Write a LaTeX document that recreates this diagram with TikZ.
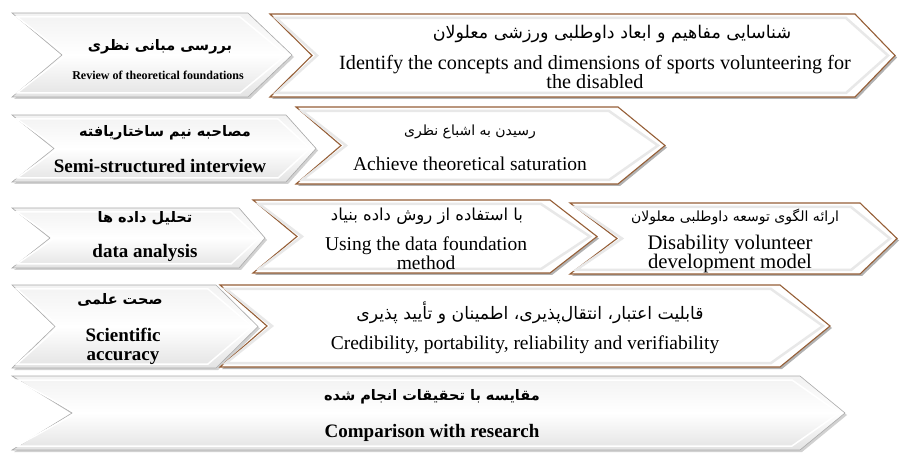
\documentclass[tikz,border=0pt]{standalone}
\usepackage{fontspec}
\setmainfont{Liberation Serif}
\newfontfamily\fa[Script=Arabic]{DejaVu Sans}
\TeXXeTstate=1
\definecolor{brownedge}{RGB}{150,95,55}
\definecolor{grayedge}{RGB}{170,170,170}
% #1 options, #2 left x, #3 tip x, #4 top y, #5 bottom y, #6 tip length, #7 notch depth
\newcommand\chev[7][]{\path[#1] (#2,#4) -- ({#3-#6},#4) -- (#3,{(#4+#5)/2}) -- ({#3-#6},#5) -- (#2,#5) -- ({#2+#7},{(#4+#5)/2}) -- cycle;}
\newcommand\graychev[6]{%
  \chev[fill=black!18]{#1+2}{#2+2}{#3+2}{#4+2}{#5}{#6}%
  \chev[top color=gray!10,bottom color=gray!22,middle color=white,draw=grayedge,line width=0.6pt]{#1}{#2}{#3}{#4}{#5}{#6}%
  \chev[draw=white,line width=1.5pt]{#1+5}{#2-6}{#3+4}{#4-4}{#5-2}{#6-1}}
\newcommand\brownchev[6]{%
  \chev[fill=black!30]{#1+2}{#2+2}{#3+2}{#4+2}{#5}{#6}%
  \chev[fill=white,draw=brownedge,line width=1.1pt]{#1}{#2}{#3}{#4}{#5}{#6}%
  \chev[draw=gray!18,line width=2.5pt]{#1+6}{#2-7}{#3+4}{#4-4}{#5-2}{#6-1}}
\tikzset{
  fagray/.style={font=\fa\bfseries\fontsize{14.5}{16}\selectfont},
  fabrown/.style={font=\fa\fontsize{#1}{#1}\selectfont},
  engray/.style={font=\bfseries\fontsize{19}{19}\selectfont,align=center},
  enbrown/.style={font=\fontsize{#1}{19}\selectfont,align=center},
  enbrown/.default=19.5,
}
\begin{document}
\begin{tikzpicture}[x=1pt,y=-1pt,inner sep=0pt]
\useasboundingbox (0,0) rectangle (902,454);
% row 1
\graychev{12}{292}{13}{97}{44}{50}
\brownchev{270}{895}{14}{97}{40}{42}
\node[fagray] (r1fa) at (160,47) {\beginR بررسی مبانی نظری\endR};
\node[engray,font=\bfseries\fontsize{12}{13}\selectfont] (r1en) at (158,75) {Review of theoretical foundations};
\node[fabrown=17.5] (r1bfa) at (612,34) {\beginR شناسایی مفاهیم و ابعاد داوطلبی ورزشی معلولان\endR};
\node[enbrown=20.2] (r1ben) at (595,72) {Identify the concepts and dimensions of sports volunteering for\\the disabled};
% row 2
\graychev{12}{316}{115}{182}{30}{42}
\brownchev{296}{665}{107}{184}{47}{45}
\node[fagray] (r2fa) at (165,133) {\beginR مصاحبه نیم ساختاریافته\endR};
\node[engray] (r2en) at (160,166) {Semi-structured interview};
\node[fabrown=14] (r2bfa) at (470,132) {\beginR رسیدن به اشباع نظری\endR};
\node[enbrown] (r2ben) at (470,164) {Achieve theoretical saturation};
% row 3
\graychev{12}{265}{208}{268}{26}{38}
\brownchev{253}{597}{200}{273}{47}{44}
\brownchev{570}{897}{203}{274}{37}{47}
\node[fagray] (r3fa) at (145,218) {\beginR تحلیل داده ها\endR};
\node[engray] (r3en) at (145,253) {data analysis};
\node[fabrown=16.5] (r3bfa) at (427,216) {\beginR با استفاده از روش داده بنیاد\endR};
\node[enbrown] (r3ben) at (426,253) {Using the data foundation\\method};
\node[fabrown=14] (r3cfa) at (735,217) {\beginR ارائه الگوی توسعه داوطلبی معلولان\endR};
\node[enbrown=20.7] (r3cen) at (730,254) {Disability volunteer\\development model};
% row 4
\graychev{12}{258}{285}{368}{42}{43}
\brownchev{220}{830}{285}{367}{50}{47}
\node[fagray] (r4fa) at (120,300) {\beginR صحت علمی\endR};
\node[engray] (r4en) at (123,346) {Scientific\\accuracy};
\node[fabrown=17.2] (r4bfa) at (530,313) {\beginR قابلیت اعتبار، انتقال‌پذیری، اطمینان و تأیید پذیری\endR};
\node[enbrown] (r4ben) at (525,345) {Credibility, portability, reliability and verifiability};
% row 5
\graychev{12}{845}{376}{450}{45}{60}
\node[fagray] (r5fa) at (432,397) {\beginR مقایسه با تحقیقات انجام شده\endR};
\node[engray] (r5en) at (432,433) {Comparison with research};
\end{tikzpicture}
\end{document}
